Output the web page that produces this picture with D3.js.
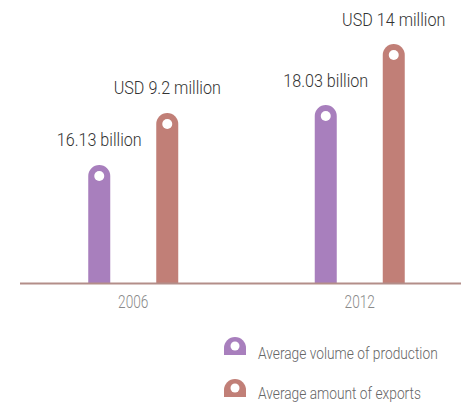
<!DOCTYPE html>
<html lang="en">
<head>
<meta charset="utf-8">
<title>Production and exports</title>
<script src="https://cdn.jsdelivr.net/npm/d3@7"></script>
<style>
    body { margin: 0; background: #fff; }
    text { font-family: "Roboto", sans-serif; font-weight: 300; }
</style>
</head>
<body>
<script>
    // data
    var years = ["2006", "2012"];
    var series = ["Average volume of production", "Average amount of exports"];
    var production = [16.13, 18.03];       // billion
    var exportsUsd = [9.2, 14];            // USD million
    var prodLabels = ["16.13 billion", "18.03 billion"];
    var expLabels = ["USD 9.2 million", "USD 14 million"];
    var colors = ["#a87fbd", "#c17f77"];

    var width = 461, height = 406, base = 283, barW = 22;

    var svg = d3.select("body").append("svg")
        .attr("width", width).attr("height", height);

    var x0 = d3.scaleBand().domain(years).range([20, 473]);
    var x1 = d3.scalePoint().domain(series).range([-34, 34]);

    // each series on its own scale (the picture does not share one)
    var yProd = d3.scaleLinear().domain([12.39, 18.03]).range([base, 105]);
    var yExp = d3.scaleLinear().domain([-2.63, 14]).range([base, 44]);

    var rows = [];
    years.forEach(function(yr, i) {
        rows.push({year: yr, s: series[0], top: yProd(production[i]), label: prodLabels[i], c: colors[0]});
        rows.push({year: yr, s: series[1], top: yExp(exportsUsd[i]), label: expLabels[i], c: colors[1]});
    });

    function cx(d) { return x0(d.year) + x0.bandwidth() / 2 + x1(d.s); }

    function pin(x, top, bottom) {
        var r = barW / 2;
        return "M" + (x - r) + "," + bottom +
            "V" + (top + r) +
            "A" + r + "," + r + " 0 0 1 " + (x + r) + "," + (top + r) +
            "V" + bottom + "Z";
    }

    // condensed look: squeeze the text sideways
    function squeeze(x, y, sx) {
        return "translate(" + x + "," + y + ") scale(" + sx + ",1)";
    }

    var g = svg.selectAll("g.bar").data(rows).enter().append("g").attr("class", "bar");
    g.append("path")
        .attr("d", function(d) { return pin(cx(d), d.top, base); })
        .attr("fill", function(d) { return d.c; });
    g.append("circle")
        .attr("cx", cx)
        .attr("cy", function(d) { return d.top + barW / 2; })
        .attr("r", 5)
        .attr("fill", "#fff");
    g.append("text")
        .attr("transform", function(d) { return squeeze(cx(d), d.top - 18.5, 0.85); })
        .attr("text-anchor", "middle")
        .attr("font-size", 19)
        .attr("fill", "#333")
        .text(function(d) { return d.label; });

    // baseline
    svg.append("line")
        .attr("x1", 20).attr("x2", width)
        .attr("y1", base + 0.5).attr("y2", base + 0.5)
        .attr("stroke", "#b38e89").attr("stroke-width", 2);

    svg.selectAll("text.year").data(years).enter().append("text")
        .attr("class", "year")
        .attr("transform", function(d) { return squeeze(x0(d) + x0.bandwidth() / 2, 307.5, 0.72); })
        .attr("text-anchor", "middle")
        .attr("font-size", 19)
        .attr("fill", "#8a8a8a")
        .text(function(d) { return d; });

    // legend
    var lg = svg.selectAll("g.legend").data(series).enter().append("g")
        .attr("class", "legend")
        .attr("transform", function(d, i) { return "translate(235," + (337 + i * 42) + ")"; });
    lg.append("path")
        .attr("d", pin(0, 0, 18))
        .attr("fill", function(d, i) { return colors[i]; });
    lg.append("circle").attr("cx", 0).attr("cy", 9).attr("r", 4.5).attr("fill", "#fff");
    lg.append("text")
        .attr("transform", function(d, i) { return squeeze(23, 22 - i * 2, 0.86); })
        .attr("font-size", 16)
        .attr("fill", "#666")
        .text(function(d) { return d; });
</script>
</body>
</html>
